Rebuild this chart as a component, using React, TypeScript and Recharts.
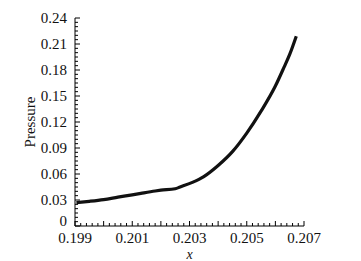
import { LineChart, Line, XAxis, YAxis } from "recharts";

// x positions along the surface and pressure
const xValues = [0.19905, 0.1995, 0.2, 0.2005, 0.201, 0.2013, 0.2018, 0.202, 0.2025, 0.20267, 0.2031, 0.2035, 0.204, 0.2045, 0.205, 0.2055, 0.206, 0.2063, 0.2065, 0.20673];
const pressure = [0.027, 0.0285, 0.0305, 0.0333, 0.036, 0.0377, 0.0404, 0.0413, 0.043, 0.045, 0.0503, 0.057, 0.0698, 0.0858, 0.1072, 0.1325, 0.1615, 0.183, 0.198, 0.219];

const xTickLabels = [0.199, 0.201, 0.203, 0.205, 0.207];
const yTickLabels = [0, 0.03, 0.06, 0.09, 0.12, 0.15, 0.18, 0.21, 0.24];

const data = xValues.map((x, i) => ({ x, p: pressure[i] }));

// minor ticks every 0.0002 on x, every 0.005 on y
const xTicks: number[] = [];
for (let i = 0; i <= 40; i++) xTicks.push(+(0.199 + i * 0.0002).toFixed(4));
const yTicks: number[] = [];
for (let i = 0; i <= 48; i++) yTicks.push(+(i * 0.005).toFixed(3));

const near = (a: number, b: number) => Math.abs(a - b) < 1e-7;
const font = "'Liberation Serif', 'DejaVu Serif', serif";

const XTick = (props: any) => {
  const { x, y, payload } = props;
  const v = payload.value;
  const major = near(Math.round(v * 1000) / 1000, v);
  const label = xTickLabels.some((l) => near(l, v));
  return (
    <g>
      <line x1={x} x2={x} y1={y} y2={y - (major ? 5 : 3)} stroke="#000" strokeWidth={1} />
      {label && (
        <text x={x} y={y + 17} textAnchor="middle" fontSize={15} fontFamily={font} fill="#111">
          {v.toFixed(3)}
        </text>
      )}
    </g>
  );
};

const YTick = (props: any) => {
  const { x, y, payload } = props;
  const v = payload.value;
  const label = yTickLabels.find((l) => near(l, v));
  return (
    <g>
      <line x1={x} x2={x + (label !== undefined ? 5 : 3)} y1={y} y2={y} stroke="#000" strokeWidth={1} />
      {label !== undefined && (
        <text x={x - 8} y={label === 0 ? y : y + 5} textAnchor="end" fontSize={15} fontFamily={font} fill="#111">
          {label === 0 ? "0" : label.toFixed(2)}
        </text>
      )}
    </g>
  );
};

const YLabel = (props: any) => {
  const { viewBox } = props;
  const cx = 32;
  const cy = viewBox.y + viewBox.height / 2;
  return (
    <text x={cx} y={cy} transform={`rotate(-90 ${cx} ${cy})`} textAnchor="middle" dominantBaseline="middle" fontSize={15} fontFamily={font} fill="#111">
      Pressure
    </text>
  );
};

const XLabel = (props: any) => {
  const { viewBox } = props;
  return (
    <text x={viewBox.x + viewBox.width / 2} y={259} textAnchor="middle" fontSize={14} fontStyle="italic" fontFamily={font} fill="#111">
      x
    </text>
  );
};

export default function App() {
  return (
    <div style={{ position: "absolute", left: 0, top: 0, width: 361, height: 261, background: "#fff" }}>
      <LineChart width={361} height={261} data={data} margin={{ top: 18, right: 57, bottom: 0, left: 0 }}>
        <XAxis
          dataKey="x"
          type="number"
          domain={[0.199, 0.207]}
          ticks={xTicks}
          interval={0}
          tickSize={0}
          tickMargin={0}
          tickLine={false}
          tick={<XTick />}
          axisLine={{ stroke: "#000" }}
          height={35}
          allowDataOverflow
          label={<XLabel />}
        />
        <YAxis
          type="number"
          domain={[0, 0.24]}
          ticks={yTicks}
          interval={0}
          tickSize={0}
          tickMargin={0}
          tickLine={false}
          tick={<YTick />}
          axisLine={{ stroke: "#000" }}
          width={75}
          allowDataOverflow
          label={<YLabel />}
        />
        <Line
          type="monotone"
          dataKey="p"
          stroke="#111"
          strokeWidth={3.2}
          dot={false}
          isAnimationActive={false}
        />
      </LineChart>
    </div>
  );
}
